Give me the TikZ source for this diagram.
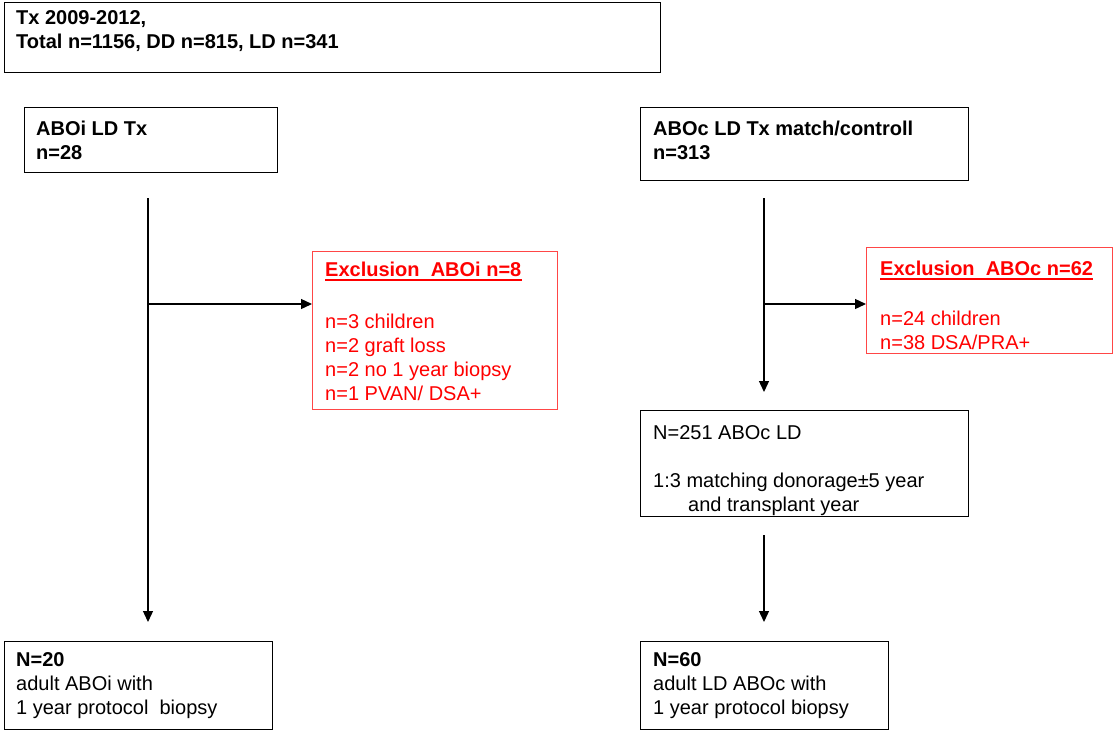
\documentclass[tikz,border=0pt]{standalone}
\usepackage{fontspec}
\setmainfont{Liberation Sans}
\usetikzlibrary{arrows.meta}
\definecolor{exred}{RGB}{255,0,0}
\definecolor{exborder}{RGB}{255,70,70}
\tikzset{
  box/.style={draw=black, line width=1.1pt, rectangle, anchor=north west, inner sep=0pt},
  exbox/.style={draw=exborder, line width=1.1pt, rectangle, anchor=north west, inner sep=0pt},
  txt/.style={anchor=north west, inner sep=0pt, align=left, font=\fontsize{20}{24}\selectfont},
  btxt/.style={txt, font=\fontsize{20}{24}\selectfont\bfseries},
  rtxt/.style={txt, text=exred},
  uline/.style={draw=exred, line width=1.5pt},
  conn/.style={draw=black, line width=1.3pt},
  arr/.style={conn, -{Triangle[length=11pt,width=10pt]}}
}
\begin{document}
\begin{tikzpicture}[x=1pt,y=-1pt]
\useasboundingbox (0,0) rectangle (1113,731);
% boxes
\node[box, minimum width=656pt, minimum height=70pt] (top) at (4,2) {};
\node[box, minimum width=253pt, minimum height=65pt] (aboi) at (24,107) {};
\node[box, minimum width=328pt, minimum height=73pt] (aboc) at (640,107) {};
\node[exbox, minimum width=245pt, minimum height=158pt] (exA) at (312,251) {};
\node[exbox, minimum width=246pt, minimum height=106pt] (exC) at (866,247) {};
\node[box, minimum width=328pt, minimum height=106pt] (n251) at (640,410) {};
\node[box, minimum width=268pt, minimum height=88pt] (n20) at (4,641) {};
\node[box, minimum width=248pt, minimum height=88pt] (n60) at (640,641) {};
% texts
\node[btxt] (ttop) at (16,10) {Tx 2009-2012,\\Total n=1156, DD n=815, LD n=341};
\node[btxt] (taboi) at (36,121) {ABOi LD Tx\\n=28};
\node[btxt] (taboc) at (653,121) {ABOc LD Tx match/controll\\n=313};
\node[rtxt, font=\fontsize{20}{24}\selectfont\bfseries] (texAt) at (325,262) {Exclusion\ \ ABOi n=8};
\node[rtxt] (texA) at (325,314) {n=3 children\\n=2 graft loss\\n=2 no 1 year biopsy\\n=1 PVAN/ DSA+};
\node[rtxt, font=\fontsize{20}{24}\selectfont\bfseries] (texCt) at (880,261) {Exclusion\ \ ABOc n=62};
\node[rtxt] (texC) at (880,311) {n=24 children\\n=38 DSA/PRA+};
\node[txt] (t251a) at (653,425) {N=251 ABOc LD};
\node[txt] (t251b) at (653,473) {1:3 matching donorage±5 year\\\hspace*{35pt}and transplant year};
\node[txt] (t20) at (16,652) {\textbf{N=20}\\adult ABOi with\\1 year protocol\ \ biopsy};
\node[txt] (t60) at (653,652) {\textbf{N=60}\\adult LD ABOc with\\1 year protocol biopsy};
% underlines
\draw[uline] ([yshift=-3.5pt]texAt.base west) -- ([yshift=-3.5pt]texAt.base east);
\draw[uline] ([yshift=-3.5pt]texCt.base west) -- ([yshift=-3.5pt]texCt.base east);
% connectors
\coordinate (lS) at (148,198);
\coordinate (lE) at (148,622);
\coordinate (lB) at (148,304);
\coordinate (rS) at (764,198);
\coordinate (rE) at (764,392);
\coordinate (rB) at (764,304);
\coordinate (r2S) at (764,535);
\coordinate (r2E) at (764,622);
\draw[arr] (lS) -- (lE);
\draw[arr] (lB) -- (lB -| exA.west);
\draw[arr] (rS) -- (rE);
\draw[arr] (rB) -- (rB -| exC.west);
\draw[arr] (r2S) -- (r2E);
\end{tikzpicture}
\end{document}
